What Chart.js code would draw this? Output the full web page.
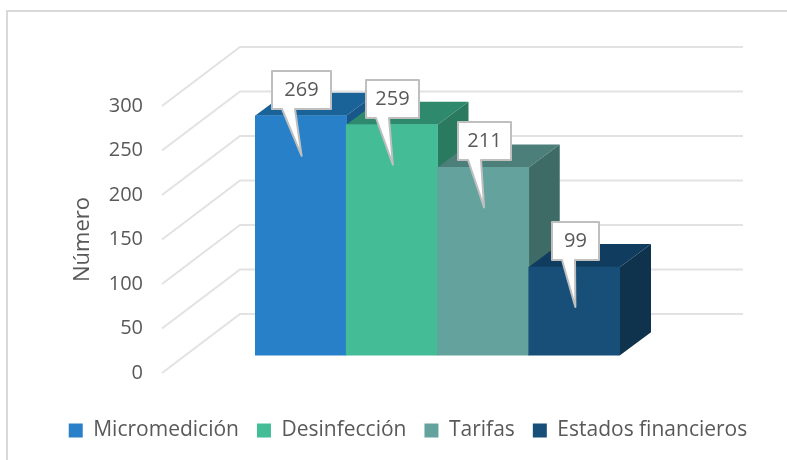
<!DOCTYPE html>
<html>
<head>
<meta charset="utf-8">
<script src="https://cdn.jsdelivr.net/npm/chart.js@4"></script>
<style>
    html, body { margin: 0; padding: 0; background: #fff; }
    #wrap { position: relative; width: 787px; height: 460px; overflow: hidden; }
    #frame { position: absolute; left: 6px; top: 10px; width: 900px; height: 600px; border: 2px solid #d9d9d9; box-sizing: border-box; }
    canvas { position: absolute; left: 0; top: 0; }
</style>
</head>
<body>
<div id="wrap">
    <div id="frame"></div>
    <canvas id="chart" width="787" height="460"></canvas>
</div>
<script>
const categories = ['Micromedición', 'Desinfección', 'Tarifas', 'Estados financieros'];
const values = [269, 259, 211, 99];
const tickValues = [0, 50, 100, 150, 200, 250, 300];

const frontColors = ['#2880c8', '#44bd96', '#64a29e', '#174f78'];
const topColors = ['#1a6399', '#2f8a6d', '#4d7f7a', '#103d5f'];
const sideColors = ['#17578a', '#2a7a60', '#3f6b67', '#0f324d'];

// width of each callout box
const calloutWidths = [59, 53, 53, 47];

const textColor = '#595959';
const fontName = '"Open Sans", sans-serif';

// bars sit part way into the floor, the labels stay on the front edge
const barDepth = { x: 31, y: -23 };
const wallDepth = { x: 78, y: -59 };

function poly(ctx, pts, color) {
    ctx.beginPath();
    pts.forEach((p, i) => i ? ctx.lineTo(p[0], p[1]) : ctx.moveTo(p[0], p[1]));
    ctx.closePath();
    ctx.fillStyle = color;
    ctx.fill();
}

const walls = {
    id: 'walls',
    beforeDatasetsDraw(chart) {
        const ctx = chart.ctx;
        const front = chart.scales.yFront;
        const left = chart.chartArea.left - 93;
        ctx.save();
        ctx.strokeStyle = '#e2e2e2';
        ctx.lineWidth = 2;
        tickValues.forEach(v => {
            const y = front.getPixelForValue(v);
            ctx.beginPath();
            ctx.moveTo(left, y);
            ctx.lineTo(left + wallDepth.x, y + wallDepth.y);
            ctx.lineTo(743, y + wallDepth.y);
            ctx.stroke();
        });

        // top and side faces, left to right so the next bar covers the last one
        const bars = chart.getDatasetMeta(0).data;
        const base = chart.scales.y.getPixelForValue(0);
        bars.forEach((bar, i) => {
            const l = bar.x - bar.width / 2;
            const r = bar.x + bar.width / 2;
            const dx = barDepth.x, dy = barDepth.y;
            poly(ctx, [[l, bar.y], [l + dx, bar.y + dy], [r + dx, bar.y + dy], [r, bar.y]], topColors[i]);
            poly(ctx, [[r, bar.y], [r + dx, bar.y + dy], [r + dx, base + dy], [r, base]], sideColors[i]);
        });
        ctx.restore();
    }
};

const callouts = {
    id: 'callouts',
    afterDatasetsDraw(chart) {
        const ctx = chart.ctx;
        const bars = chart.getDatasetMeta(0).data;
        ctx.save();
        bars.forEach((bar, i) => {
            const w = calloutWidths[i];
            const boxLeft = Math.round(bar.x + 1 - w / 2);
            const boxTop = Math.round(bar.y - 45);
            const boxBottom = boxTop + 38;
            ctx.beginPath();
            ctx.moveTo(boxLeft, boxTop);
            ctx.lineTo(boxLeft + w, boxTop);
            ctx.lineTo(boxLeft + w, boxBottom);
            ctx.lineTo(boxLeft + 23, boxBottom);
            ctx.lineTo(bar.x + 1, bar.y + 40);
            ctx.lineTo(boxLeft + 10, boxBottom);
            ctx.lineTo(boxLeft, boxBottom);
            ctx.closePath();
            ctx.fillStyle = '#fff';
            ctx.fill();
            ctx.strokeStyle = '#bfbfbf';
            ctx.lineWidth = 2;
            ctx.lineJoin = 'round';
            ctx.stroke();
            ctx.fillStyle = textColor;
            ctx.font = '20px ' + fontName;
            ctx.textAlign = 'center';
            ctx.textBaseline = 'middle';
            ctx.fillText(values[i], boxLeft + w / 2, boxTop + 19);
        });
        ctx.restore();
    }
};

new Chart(document.getElementById('chart').getContext('2d'), {
    type: 'bar',
    data: {
        labels: categories,
        datasets: [{
            data: values,
            backgroundColor: frontColors,
            yAxisID: 'y',
            barPercentage: 1,
            categoryPercentage: 1
        }]
    },
    options: {
        responsive: false,
        animation: false,
        layout: { autoPadding: false, padding: { left: 29, right: 0, top: 106, bottom: 9 } },
        scales: {
            x: {
                display: true,
                grid: { display: false },
                border: { display: false },
                ticks: { display: false },
                afterFit(scale) { scale.height = 29; }
            },
            // the bars are drawn against this one, shifted up from the front axis
            y: {
                display: false,
                min: -20,
                max: 280
            },
            yFront: {
                position: 'left',
                min: 0,
                max: 300,
                afterBuildTicks(scale) { scale.ticks = tickValues.map(v => ({ value: v })); },
                afterFit(scale) {
                    scale.width = 226;
                    // the big tick padding would otherwise squash the plot height
                    scale.paddingTop = 0;
                    scale.paddingBottom = 0;
                },
                grid: { display: false },
                border: { display: false },
                ticks: {
                    padding: 104,
                    color: textColor,
                    font: { family: fontName, size: 20 }
                },
                title: {
                    display: true,
                    text: 'Número',
                    color: textColor,
                    padding: { top: 41, bottom: 0 },
                    font: { family: fontName, size: 22 }
                }
            },
            // keeps the bars clear of the right side without narrowing the legend
            yRight: {
                position: 'right',
                afterFit(scale) { scale.width = 167; },
                grid: { display: false },
                border: { display: false },
                ticks: { display: false }
            }
        },
        plugins: {
            tooltip: { enabled: false },
            legend: {
                position: 'bottom',
                labels: {
                    boxWidth: 14,
                    boxHeight: 14,
                    padding: 18,
                    color: textColor,
                    font: { family: fontName, size: 21 },
                    generateLabels() {
                        return categories.map((c, i) => ({
                            text: c,
                            fillStyle: frontColors[i],
                            strokeStyle: frontColors[i],
                            lineWidth: 0,
                            fontColor: textColor,
                            index: i
                        }));
                    }
                }
            }
        }
    },
    plugins: [walls, callouts]
});
</script>
</body>
</html>
